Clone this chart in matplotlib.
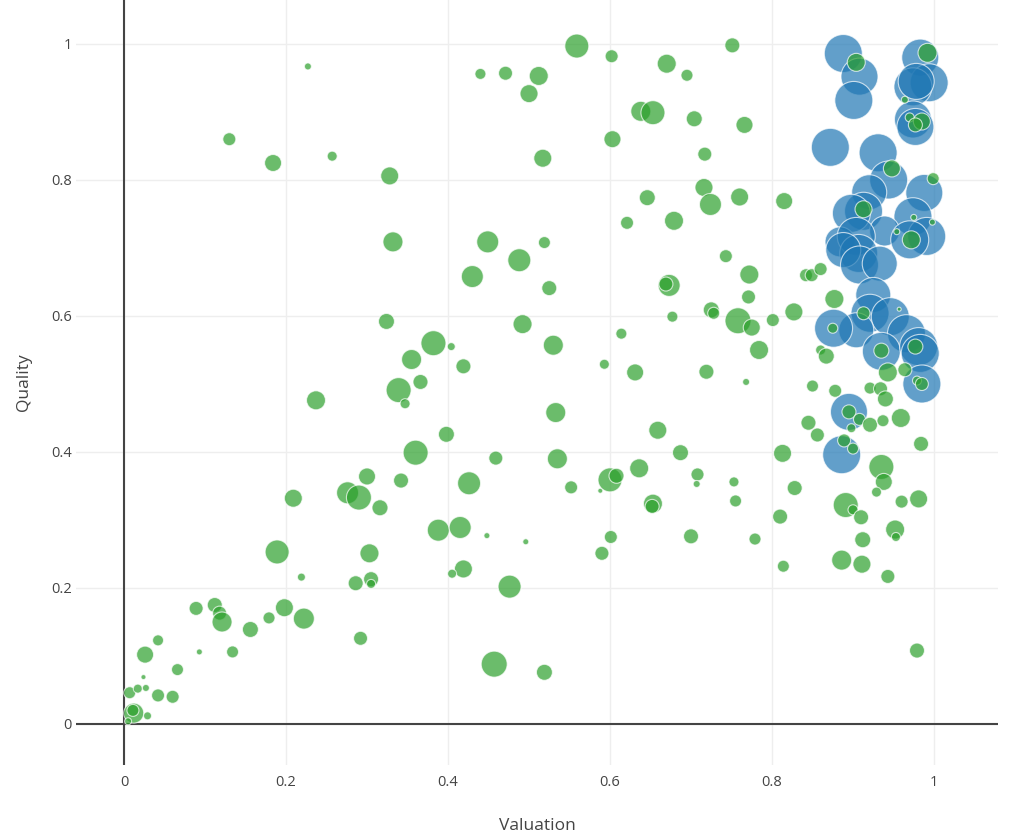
import matplotlib.pyplot as plt
import numpy as np

plt.rcParams["font.family"] = ["Open Sans", "DejaVu Sans"]

# green series: valuation, quality, bubble size
green_x = [0.130, 0.184, 0.257, 0.328, 0.332, 0.324, 0.355, 0.366, 0.339, 0.347,
           0.237, 0.227, 0.360, 0.300, 0.342, 0.276, 0.290, 0.316, 0.209, 0.189,
           0.303, 0.219, 0.286, 0.305, 0.305, 0.089, 0.112, 0.118, 0.121, 0.156,
           0.179, 0.198, 0.222, 0.292, 0.042, 0.026, 0.093, 0.134, 0.066, 0.024,
           0.007, 0.017, 0.027, 0.042, 0.060, 0.012, 0.011, 0.005, 0.029, 0.559,
           0.602, 0.440, 0.471, 0.512, 0.500, 0.670, 0.695, 0.638, 0.653, 0.704,
           0.603, 0.717, 0.517, 0.716, 0.724, 0.646, 0.621, 0.679, 0.449, 0.519,
           0.488, 0.430, 0.525, 0.673, 0.669, 0.677, 0.725, 0.728, 0.614, 0.492,
           0.530, 0.382, 0.404, 0.419, 0.593, 0.631, 0.719, 0.743, 0.533, 0.659,
           0.687, 0.398, 0.459, 0.535, 0.426, 0.552, 0.588, 0.600, 0.608, 0.636,
           0.708, 0.707, 0.653, 0.652, 0.388, 0.415, 0.448, 0.496, 0.601, 0.590,
           0.700, 0.419, 0.405, 0.476, 0.457, 0.519, 0.751, 0.766, 0.760, 0.815,
           0.904, 0.992, 0.964, 0.970, 0.985, 0.977, 0.948, 0.999, 0.913, 0.975,
           0.998, 0.954, 0.972, 0.772, 0.771, 0.758, 0.775, 0.801, 0.827, 0.784,
           0.768, 0.842, 0.849, 0.860, 0.877, 0.913, 0.957, 0.875, 0.935, 0.977,
           0.860, 0.867, 0.943, 0.964, 0.979, 0.985, 0.850, 0.878, 0.921, 0.934,
           0.940, 0.895, 0.908, 0.921, 0.937, 0.959, 0.898, 0.845, 0.856, 0.889,
           0.900, 0.984, 0.813, 0.935, 0.938, 0.753, 0.828, 0.929, 0.755, 0.891,
           0.900, 0.910, 0.960, 0.981, 0.810, 0.952, 0.953, 0.779, 0.912, 0.886,
           0.911, 0.814, 0.943, 0.979]
green_y = [0.860, 0.825, 0.835, 0.806, 0.709, 0.592, 0.536, 0.503, 0.491, 0.471,
           0.476, 0.967, 0.399, 0.364, 0.358, 0.340, 0.333, 0.318, 0.332, 0.253,
           0.251, 0.216, 0.207, 0.213, 0.206, 0.170, 0.175, 0.163, 0.150, 0.139,
           0.156, 0.171, 0.155, 0.126, 0.123, 0.102, 0.106, 0.106, 0.080, 0.069,
           0.046, 0.052, 0.053, 0.042, 0.040, 0.016, 0.020, 0.004, 0.012, 0.997,
           0.982, 0.956, 0.957, 0.953, 0.927, 0.971, 0.954, 0.901, 0.899, 0.890,
           0.860, 0.838, 0.832, 0.789, 0.764, 0.774, 0.737, 0.740, 0.709, 0.708,
           0.682, 0.658, 0.641, 0.645, 0.647, 0.599, 0.609, 0.604, 0.574, 0.588,
           0.557, 0.560, 0.555, 0.526, 0.529, 0.517, 0.518, 0.688, 0.458, 0.432,
           0.399, 0.426, 0.391, 0.390, 0.354, 0.348, 0.343, 0.359, 0.365, 0.376,
           0.367, 0.353, 0.324, 0.320, 0.285, 0.289, 0.277, 0.268, 0.275, 0.251,
           0.276, 0.228, 0.221, 0.202, 0.088, 0.076, 0.998, 0.881, 0.775, 0.769,
           0.973, 0.987, 0.918, 0.892, 0.886, 0.881, 0.817, 0.802, 0.757, 0.745,
           0.738, 0.724, 0.712, 0.661, 0.628, 0.593, 0.583, 0.594, 0.606, 0.550,
           0.503, 0.660, 0.660, 0.669, 0.625, 0.604, 0.610, 0.582, 0.549, 0.555,
           0.550, 0.541, 0.517, 0.521, 0.505, 0.500, 0.497, 0.490, 0.494, 0.493,
           0.478, 0.459, 0.448, 0.440, 0.446, 0.450, 0.435, 0.443, 0.425, 0.417,
           0.405, 0.412, 0.398, 0.378, 0.356, 0.356, 0.347, 0.341, 0.328, 0.322,
           0.315, 0.304, 0.327, 0.331, 0.305, 0.286, 0.275, 0.272, 0.271, 0.241,
           0.235, 0.232, 0.217, 0.108]
green_size = [13, 17, 10, 18, 20, 16, 20, 15, 25, 10,
              19, 7, 25, 17, 15, 22, 25, 16, 18, 24,
              19, 8, 15, 15, 9, 14, 15, 14, 20, 16,
              12, 18, 21, 14, 11, 17, 6, 12, 12, 5,
              12, 9, 7, 13, 13, 20, 12, 7, 8, 24,
              13, 11, 14, 19, 18, 19, 12, 20, 24, 16,
              17, 14, 18, 18, 22, 16, 13, 19, 22, 12,
              23, 22, 15, 22, 14, 11, 16, 12, 11, 19,
              20, 25, 8, 15, 10, 17, 15, 13, 20, 18,
              16, 16, 14, 20, 23, 13, 5, 24, 15, 19,
              13, 7, 19, 14, 22, 22, 6, 6, 13, 14,
              15, 18, 9, 23, 26, 16, 15, 17, 18, 17,
              18, 19, 7, 9, 17, 14, 17, 12, 17, 6,
              6, 6, 18, 19, 14, 26, 17, 13, 18, 19,
              7, 13, 13, 13, 19, 13, 4, 10, 15, 15,
              10, 16, 19, 14, 9, 13, 12, 13, 12, 14,
              16, 14, 12, 15, 12, 19, 9, 15, 14, 13,
              11, 15, 18, 25, 17, 10, 15, 10, 12, 25,
              10, 15, 13, 18, 15, 19, 9, 12, 16, 20,
              18, 12, 14, 15]

# blue series
blue_x = [0.888, 0.908, 0.901, 0.983, 0.994, 0.974, 0.978, 0.974, 0.977, 0.872,
          0.931, 0.944, 0.920, 0.988, 0.913, 0.898, 0.974, 0.939, 0.991, 0.970,
          0.884, 0.904, 0.907, 0.888, 0.908, 0.933, 0.925, 0.921, 0.946, 0.904,
          0.876, 0.966, 0.935, 0.981, 0.983, 0.985, 0.895, 0.886]
blue_y = [0.986, 0.952, 0.917, 0.980, 0.943, 0.937, 0.945, 0.889, 0.878, 0.848,
          0.840, 0.800, 0.782, 0.781, 0.754, 0.751, 0.746, 0.725, 0.717, 0.712,
          0.709, 0.717, 0.692, 0.697, 0.675, 0.677, 0.631, 0.604, 0.599, 0.579,
          0.582, 0.574, 0.548, 0.555, 0.545, 0.500, 0.459, 0.396]
blue_size = [38, 37, 38, 37, 38, 38, 36, 37, 37, 38,
             38, 38, 35, 37, 38, 38, 38, 30, 38, 38,
             30, 38, 38, 35, 38, 35, 35, 38, 38, 35,
             38, 38, 38, 38, 38, 38, 37, 38]

ticks = [0, 0.2, 0.4, 0.6, 0.8, 1]
tick_labels = ["0", "0.2", "0.4", "0.6", "0.8", "1"]

fig = plt.figure(figsize=(10.3, 8.39), dpi=100)
ax = fig.add_axes([76 / 1030, 74 / 839, 922 / 1030, 765 / 839])


def area(d):
    # diameter in pixels -> marker area in points^2
    return (np.array(d) * 0.72) ** 2


ax.scatter(blue_x, blue_y, s=area(blue_size), color="#1f77b4", alpha=0.7,
           edgecolors="white", linewidths=0.8, zorder=3)
ax.scatter(green_x, green_y, s=area(green_size), color="#2ca02c", alpha=0.7,
           edgecolors="white", linewidths=0.8, zorder=4)

ax.set_xlim(-0.0593, 1.079)
ax.set_ylim(-0.0603, 1.0647)

ax.set_xticks(ticks)
ax.set_xticklabels(tick_labels)
ax.set_yticks(ticks)
ax.set_yticklabels(tick_labels)
ax.grid(True, color="#eeeeee", linewidth=1, zorder=0)
ax.set_axisbelow(True)

# zero lines
ax.axhline(0, color="#444444", linewidth=1.5, zorder=2)
ax.axvline(0, color="#444444", linewidth=1.5, zorder=2)

for s in ax.spines.values():
    s.set_visible(False)
ax.tick_params(length=0, labelsize=10.5, labelcolor="#444444")
ax.tick_params(axis="x", pad=7)
ax.tick_params(axis="y", pad=3)

ax.set_xlabel("Valuation", fontsize=12.5, color="#444444", labelpad=20)
ax.set_ylabel("Quality", fontsize=12.5, color="#444444", labelpad=14)

fig.savefig("out.png", dpi=100)
